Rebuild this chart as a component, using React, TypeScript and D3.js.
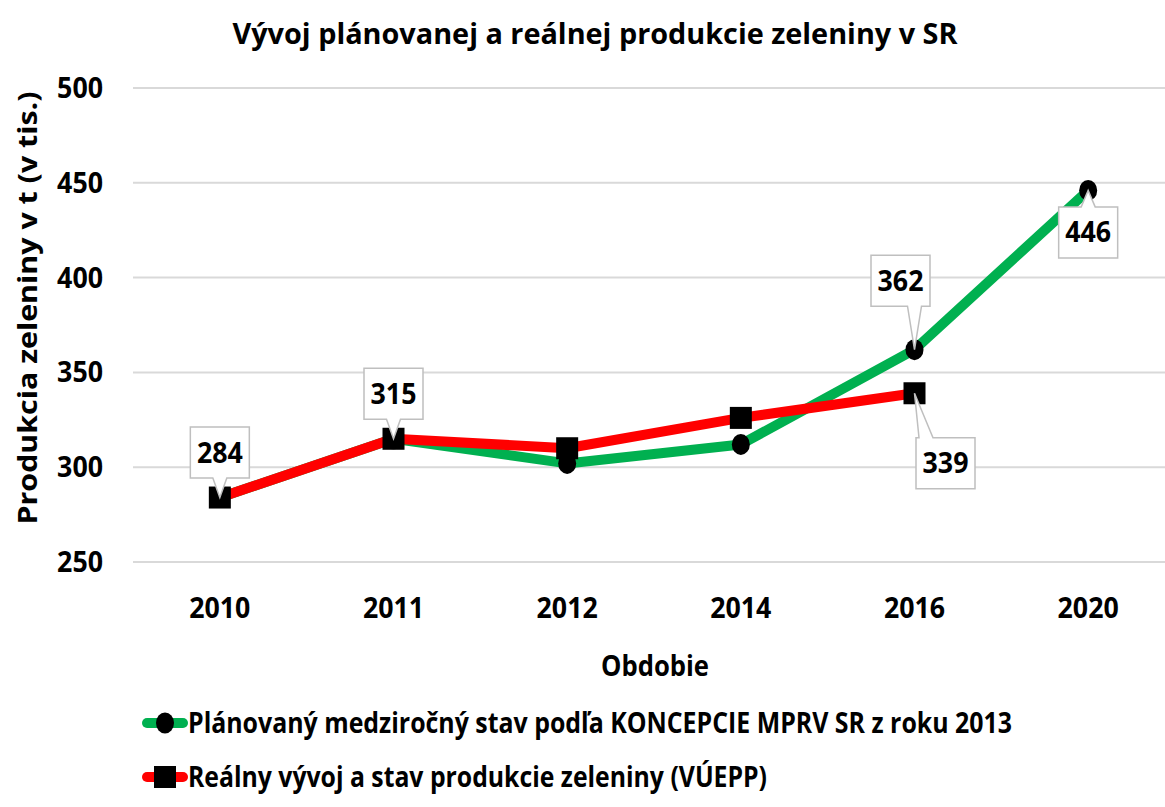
import { useEffect, useRef } from "react";
import * as d3 from "d3";

const categories = ["2010", "2011", "2012", "2014", "2016", "2020"];
const planned = [284, 315, 302, 312, 362, 446];
const real: (number | null)[] = [284, 315, 310, 326, 339, null];
const yTicks = [250, 300, 350, 400, 450, 500];

const seriesNames = [
  "Plánovaný medziročný stav podľa KONCEPCIE MPRV SR z roku 2013",
  "Reálny vývoj a stav produkcie zeleniny (VÚEPP)",
];

// which points get a callout label
const labelledPlanned = [4, 5];
const labelledReal = [0, 1, 4];

// callout box offsets from its point (layout only)
const callout: Record<string, [number, number]> = {
  p4: [-14, -69],
  p5: [0, 42],
  r0: [0, -45],
  r1: [0, -45],
  r4: [31, 70],
};

const FONT = "'Open Sans', 'DejaVu Sans', sans-serif";
const GREEN = "#00b050";
const RED = "#ff0000";

// numbers in the source are a narrow bold face; squeeze a little
const numLen = (s: string) => s.length * 15.3;

export default function App() {
  const svgRef = useRef<SVGSVGElement>(null);
  const width = 1165;
  const height = 807;

  useEffect(() => {
    if (!svgRef.current) return;
    const svg = d3.select(svgRef.current);
    svg.selectAll("*").remove();

    const x = d3.scaleBand<string>().domain(categories).range([133, 1175]);
    const y = d3.scaleLinear().domain([250, 500]).range([562, 88]);
    const cx = (c: string) => (x(c) ?? 0) + x.bandwidth() / 2;

    // title
    svg
      .append("text")
      .attr("x", 595)
      .attr("y", 44)
      .attr("text-anchor", "middle")
      .attr("font-family", FONT)
      .attr("font-weight", 700)
      .attr("font-size", 28)
      .attr("textLength", 725)
      .attr("lengthAdjust", "spacingAndGlyphs")
      .text("Vývoj plánovanej a reálnej produkcie zeleniny v SR");

    // grid + y ticks
    const grid = svg.append("g");
    grid
      .selectAll("line")
      .data(yTicks)
      .join("line")
      .attr("x1", 133)
      .attr("x2", width)
      .attr("y1", (d) => y(d))
      .attr("y2", (d) => y(d))
      .attr("stroke", "#d9d9d9")
      .attr("stroke-width", 2);
    grid
      .selectAll("text")
      .data(yTicks)
      .join("text")
      .attr("x", 103)
      .attr("y", (d) => y(d))
      .attr("dy", "0.36em")
      .attr("text-anchor", "end")
      .attr("font-family", FONT)
      .attr("font-weight", 700)
      .attr("font-size", 28)
      .attr("textLength", (d) => numLen(String(d)))
      .attr("lengthAdjust", "spacingAndGlyphs")
      .text((d) => d);

    // x ticks
    svg
      .append("g")
      .selectAll("text")
      .data(categories)
      .join("text")
      .attr("x", (d) => cx(d))
      .attr("y", 618)
      .attr("text-anchor", "middle")
      .attr("font-family", FONT)
      .attr("font-weight", 700)
      .attr("font-size", 28)
      .attr("textLength", (d) => numLen(d))
      .attr("lengthAdjust", "spacingAndGlyphs")
      .text((d) => d);

    svg
      .append("text")
      .attr("x", 655)
      .attr("y", 676)
      .attr("text-anchor", "middle")
      .attr("font-family", FONT)
      .attr("font-weight", 700)
      .attr("font-size", 28)
      .attr("textLength", 108)
      .attr("lengthAdjust", "spacingAndGlyphs")
      .text("Obdobie");

    svg
      .append("text")
      .attr("transform", `translate(37,308) rotate(-90)`)
      .attr("text-anchor", "middle")
      .attr("font-family", FONT)
      .attr("font-weight", 700)
      .attr("font-size", 27)
      .attr("textLength", 433)
      .attr("lengthAdjust", "spacingAndGlyphs")
      .text("Produkcia zeleniny v t (v tis.)");

    // lines
    const line = d3
      .line<number | null>()
      .defined((d) => d != null)
      .x((_, i) => cx(categories[i]))
      .y((d) => y(d as number));

    const drawSeries = (values: (number | null)[], color: string, shape: "circle" | "square") => {
      svg
        .append("path")
        .datum(values)
        .attr("d", line)
        .attr("fill", "none")
        .attr("stroke", color)
        .attr("stroke-width", 10)
        .attr("stroke-linejoin", "round")
        .attr("stroke-linecap", "round");
      const pts = values
        .map((v, i) => ({ v, c: categories[i] }))
        .filter((d) => d.v != null);
      const g = svg.append("g").attr("fill", "#000");
      if (shape === "circle") {
        g.selectAll("ellipse")
          .data(pts)
          .join("ellipse")
          .attr("cx", (d) => cx(d.c))
          .attr("cy", (d) => y(d.v as number))
          .attr("rx", 9)
          .attr("ry", 10.5);
      } else {
        g.selectAll("rect")
          .data(pts)
          .join("rect")
          .attr("x", (d) => cx(d.c) - 11)
          .attr("y", (d) => y(d.v as number) - 11)
          .attr("width", 22)
          .attr("height", 22);
      }
    };
    drawSeries(planned, GREEN, "circle");
    drawSeries(real, RED, "square");

    // callouts
    const bw = 59;
    const bh = 51;
    const calloutPath = (tx: number, ty: number, bx: number, by: number) => {
      const l = bx - bw / 2;
      const r = bx + bw / 2;
      const t = by - bh / 2;
      const b = by + bh / 2;
      const mid = Math.max(l + 10, Math.min(r - 10, tx));
      const hw = 7;
      if (ty > b) {
        return `M${l},${t}H${r}V${b}H${mid + hw}L${tx},${ty}L${mid - hw},${b}H${l}Z`;
      }
      if (ty < t) {
        return `M${l},${t}H${mid - hw}L${tx},${ty}L${mid + hw},${t}H${r}V${b}H${l}Z`;
      }
      return `M${l},${t}H${r}V${b}H${l}Z`;
    };

    const labels = [
      ...labelledPlanned.map((i) => ({ key: `p${i}`, i, v: planned[i] as number })),
      ...labelledReal.map((i) => ({ key: `r${i}`, i, v: real[i] as number })),
    ];
    const lg = svg.append("g");
    labels.forEach((d) => {
      const px = cx(categories[d.i]);
      const py = y(d.v);
      const [dx, dy] = callout[d.key];
      const bx = px + dx;
      const by = py + dy;
      lg.append("path")
        .attr("d", calloutPath(px, py, bx, by))
        .attr("fill", "#fff")
        .attr("stroke", "#bfbfbf")
        .attr("stroke-width", 1.5);
      lg.append("text")
        .attr("x", bx)
        .attr("y", by)
        .attr("dy", "0.36em")
        .attr("text-anchor", "middle")
        .attr("font-family", FONT)
        .attr("font-weight", 700)
        .attr("font-size", 28)
        .attr("textLength", numLen(String(d.v)))
        .attr("lengthAdjust", "spacingAndGlyphs")
        .text(d.v);
    });

    // legend
    const legendRows = [
      { name: seriesNames[0], color: GREEN, shape: "circle", y: 723, len: 824 },
      { name: seriesNames[1], color: RED, shape: "square", y: 777, len: 579 },
    ];
    legendRows.forEach((row) => {
      const g = svg.append("g");
      g.append("line")
        .attr("x1", 147)
        .attr("x2", 183)
        .attr("y1", row.y)
        .attr("y2", row.y)
        .attr("stroke", row.color)
        .attr("stroke-width", 10)
        .attr("stroke-linecap", "round");
      if (row.shape === "circle") {
        g.append("ellipse").attr("cx", 165).attr("cy", row.y).attr("rx", 9).attr("ry", 10.5);
      } else {
        g.append("rect").attr("x", 154).attr("y", row.y - 11).attr("width", 22).attr("height", 22);
      }
      g.append("text")
        .attr("x", 188)
        .attr("y", row.y + 10)
        .attr("font-family", FONT)
        .attr("font-weight", 700)
        .attr("font-size", 28)
        .attr("textLength", row.len)
        .attr("lengthAdjust", "spacingAndGlyphs")
        .text(row.name);
    });
  }, []);

  return (
    <svg
      ref={svgRef}
      width={width}
      height={height}
      style={{ position: "absolute", left: 0, top: 0, background: "#fff", display: "block" }}
    />
  );
}
